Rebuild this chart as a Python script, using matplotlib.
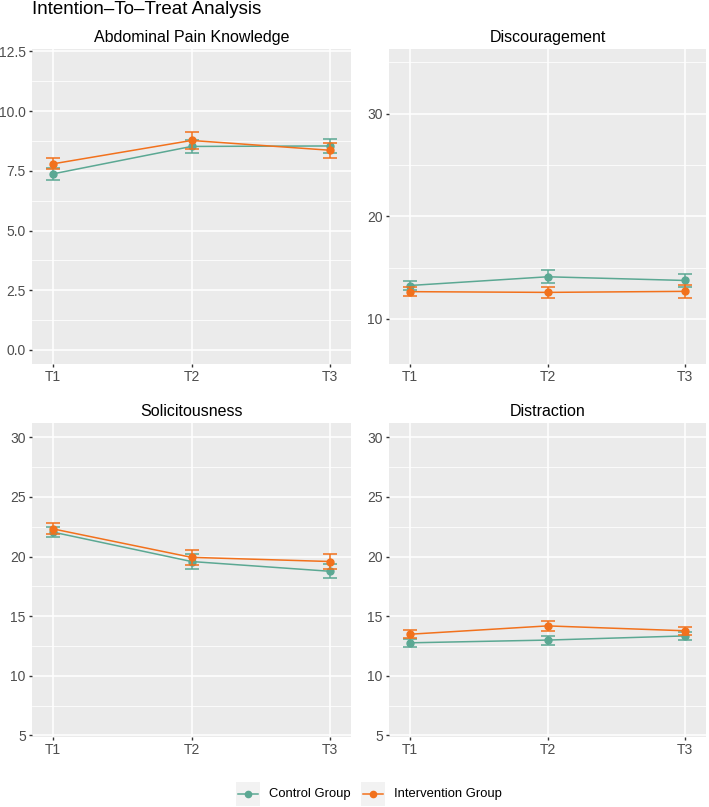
import matplotlib.pyplot as plt
from matplotlib.patches import Rectangle
from matplotlib.lines import Line2D
import numpy as np

plt.rcParams['font.family'] = ['Liberation Sans', 'DejaVu Sans']

times = ["T1", "T2", "T3"]
groups = ["Control Group", "Intervention Group"]
colors = ["#5BA893", "#F2711C"]

panel_titles = ["Abdominal Pain Knowledge", "Discouragement", "Solicitousness", "Distraction"]

# means and error half-widths, per group (control, intervention)
apk_mean = [[7.37, 8.52, 8.54], [7.79, 8.77, 8.36]]
apk_err = [[0.26, 0.28, 0.31], [0.23, 0.35, 0.32]]
disc_mean = [[13.25, 14.1, 13.74], [12.65, 12.58, 12.68]]
disc_err = [[0.44, 0.65, 0.65], [0.43, 0.57, 0.6]]
sol_mean = [[22.05, 19.58, 18.76], [22.32, 19.93, 19.58]]
sol_err = [[0.42, 0.6, 0.6], [0.45, 0.62, 0.62]]
dis_mean = [[12.76, 12.99, 13.34], [13.48, 14.18, 13.77]]
dis_err = [[0.34, 0.38, 0.33], [0.32, 0.4, 0.33]]

means = [apk_mean, disc_mean, sol_mean, dis_mean]
errs = [apk_err, disc_err, sol_err, dis_err]
ylims = [(-0.59, 12.6), (5.6, 36.3), (4.86, 31.2), (4.86, 31.2)]
major = [np.arange(0, 12.6, 2.5), [10, 20, 30], np.arange(5, 31, 5), np.arange(5, 31, 5)]
minor = [np.arange(1.25, 12.6, 2.5), [15, 25, 35], np.arange(7.5, 31, 5), np.arange(7.5, 31, 5)]
fmts = ["{:.1f}", "{:.0f}", "{:.0f}", "{:.0f}"]

W, H = 709, 807
fig = plt.figure(figsize=(W / 100, H / 100), dpi=100)

# panel boxes in pixels: x0, x1, ytop, ybottom
boxes = [(32, 351, 49, 364), (389, 706, 49, 364), (32, 351, 423, 737), (389, 706, 423, 737)]

x = np.arange(1, 4)
for i, (x0, x1, yt, yb) in enumerate(boxes):
    ax = fig.add_axes([x0 / W, 1 - yb / H, (x1 - x0) / W, (yb - yt) / H])
    ax.set_facecolor("#EBEBEB")
    for s in ax.spines.values():
        s.set_visible(False)
    ax.set_xlim(0.85, 3.15)
    ax.set_ylim(*ylims[i])
    ax.set_xticks(x)
    ax.set_xticklabels(times)
    ax.set_yticks(major[i])
    ax.set_yticklabels([fmts[i].format(v) for v in major[i]])
    ax.set_yticks(minor[i], minor=True)
    ax.grid(True, which="major", color="white", lw=1.1)
    ax.grid(True, which="minor", axis="y", color="white", lw=0.55)
    ax.set_axisbelow(True)
    ax.tick_params(which="major", length=2.5, width=1, color="#333333", labelcolor="#4D4D4D",
                   labelsize=10, pad=2)
    ax.tick_params(which="minor", length=0)
    for g in range(2):
        ax.errorbar(x, means[i][g], yerr=errs[i][g], color=colors[g], lw=1.1, marker="o", ms=5,
                    capsize=4.7, capthick=1.1, elinewidth=1.1, zorder=3 + g)
    ax.set_title(panel_titles[i], fontsize=11.5, pad=5)

fig.text(32 / W, 1 - 9 / H, "Intention\u2013To\u2013Treat Analysis", fontsize=13.5, va="center", ha="left")

# legend
lax = fig.add_axes([0, 0, 1, 1])
lax.set_xlim(0, W)
lax.set_ylim(H, 0)
lax.axis("off")
keys = [(236, 269), (361, 394)]
for g, (kx, tx) in enumerate(keys):
    lax.add_patch(Rectangle((kx, 782), 24, 24, facecolor="#F2F2F2", edgecolor="none"))
    lax.add_line(Line2D([kx + 2, kx + 22], [794, 794], color=colors[g], lw=1.1))
    lax.plot([kx + 12], [794], "o", color=colors[g], ms=4.5)
    lax.text(tx, 794, groups[g], fontsize=9.4, va="center", ha="left")

fig.savefig("out.png", dpi=100)
